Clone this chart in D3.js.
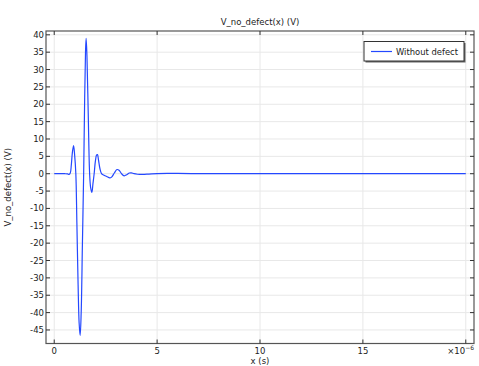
<!DOCTYPE html>
<html><head><meta charset="utf-8">
<script src="https://cdn.jsdelivr.net/npm/d3@7"></script>
<style>body{margin:0;background:#fff}svg{display:block;font-family:"DejaVu Sans",sans-serif}</style>
</head><body><svg id="c" width="479" height="366"></svg>
<script>
const title = "V_no_defect(x) (V)";
const xLabel = "x (s)";
const yLabel = "V_no_defect(x) (V)";
const seriesName = "Without defect";
const xTicks = [0, 5, 10, 15];
const yTicks = [-45,-40,-35,-30,-25,-20,-15,-10,-5,0,5,10,15,20,25,30,35,40];
// time in microseconds
const tVals = [0,0.5,0.65,0.72,0.78,0.83,0.88,0.94,0.99,1.05,1.10,1.16,1.21,1.26,1.31,1.37,1.43,1.48,1.52,1.55,1.59,1.65,1.72,1.77,1.83,1.88,1.94,2.00,2.06,2.10,2.15,2.22,2.30,2.40,2.55,2.70,2.80,2.92,3.05,3.15,3.27,3.40,3.52,3.65,3.75,3.88,4.05,4.3,4.6,5.0,5.5,6.0,7.0,8,10,12,15,18,20];
const vVals = [0,0,-0.05,-0.2,0.2,2.5,6.0,8.1,5.5,0,-14,-32,-43,-46.6,-40,-20,0,22,35,39.0,34,18,0,-4.0,-5.4,-3,0,3.6,5.4,5.5,4.0,1.5,0,-0.4,-0.8,-1.2,-0.9,0.2,1.2,1.0,0,-0.6,-0.3,0.2,0.25,0,-0.15,-0.2,-0.1,0.05,0.1,0.08,0.03,0,0.02,0,0.02,0,0];

const svg = d3.select("#c");
const L=46, T=31, R=474, B=343.5;
const x = d3.scaleLinear().domain([-0.4,20.4]).range([L,R]);
const y = d3.scaleLinear().domain([-48.9,41.1]).range([B,T]);

const grid = svg.append("g").attr("stroke","#e8e8e8").attr("stroke-width",1);
xTicks.concat([20]).forEach(t=>grid.append("line").attr("x1",x(t)).attr("x2",x(t)).attr("y1",T).attr("y2",B));
yTicks.forEach(t=>grid.append("line").attr("x1",L).attr("x2",R).attr("y1",y(t)).attr("y2",y(t)));

const data = tVals.map((t,i)=>[t,vVals[i]]);
svg.append("path").datum(data)
  .attr("fill","none").attr("stroke","#2448ff").attr("stroke-width",1.2)
  .attr("d", d3.line().x(d=>x(d[0])).y(d=>y(d[1])).curve(d3.curveCatmullRom.alpha(0.5)));

svg.append("rect").attr("x",L).attr("y",T).attr("width",R-L).attr("height",B-T)
  .attr("fill","none").attr("stroke","#555").attr("stroke-width",1.2);

const ax = svg.append("g").attr("stroke","#333").attr("stroke-width",1);
xTicks.concat([20]).forEach(t=>{
  ax.append("line").attr("x1",x(t)).attr("x2",x(t)).attr("y1",B).attr("y2",B-4);
  ax.append("line").attr("x1",x(t)).attr("x2",x(t)).attr("y1",T).attr("y2",T+4);
});
yTicks.forEach(t=>{
  ax.append("line").attr("x1",L).attr("x2",L+4).attr("y1",y(t)).attr("y2",y(t));
  ax.append("line").attr("x1",R).attr("x2",R-4).attr("y1",y(t)).attr("y2",y(t));
});

const fs = 8.5;
svg.append("g").selectAll("text").data(xTicks).join("text")
  .attr("x",d=>x(d)).attr("y",354).attr("text-anchor","middle")
  .attr("font-size",fs).attr("fill","#222").text(d=>d);
svg.append("g").selectAll("text").data(yTicks).join("text")
  .attr("x",44).attr("y",d=>y(d)+3).attr("text-anchor","end")
  .attr("font-size",fs).attr("fill","#222").text(d=>d);

const ex = svg.append("text").attr("x",474).attr("y",354).attr("text-anchor","end").attr("font-size",fs).attr("fill","#222");
ex.append("tspan").text("×10");
ex.append("tspan").attr("dy",-4).attr("font-size",6).text("−6");

svg.append("text").attr("x",(L+R)/2).attr("y",25).attr("text-anchor","middle").attr("font-size",fs).attr("fill","#222").text(title);
svg.append("text").attr("x",x(10)).attr("y",364).attr("text-anchor","middle").attr("font-size",fs).attr("fill","#222").text(xLabel);
svg.append("text").attr("transform",`translate(11,${(T+B)/2}) rotate(-90)`).attr("text-anchor","middle").attr("font-size",fs).attr("fill","#222").text(yLabel);

const lg = svg.append("g");
lg.append("rect").attr("x",365.5).attr("y",43).attr("width",100).attr("height",19.5).attr("fill","#666");
lg.append("rect").attr("x",364).attr("y",41.5).attr("width",100).attr("height",19.5).attr("fill","#fff").attr("stroke","#333").attr("stroke-width",1);
lg.append("line").attr("x1",371).attr("x2",392).attr("y1",51.5).attr("y2",51.5).attr("stroke","#2448ff").attr("stroke-width",1.2);
lg.append("text").attr("x",396).attr("y",54.5).attr("font-size",fs).attr("fill","#222").attr("textLength",62).attr("lengthAdjust","spacingAndGlyphs").text(seriesName);
</script></body></html>
